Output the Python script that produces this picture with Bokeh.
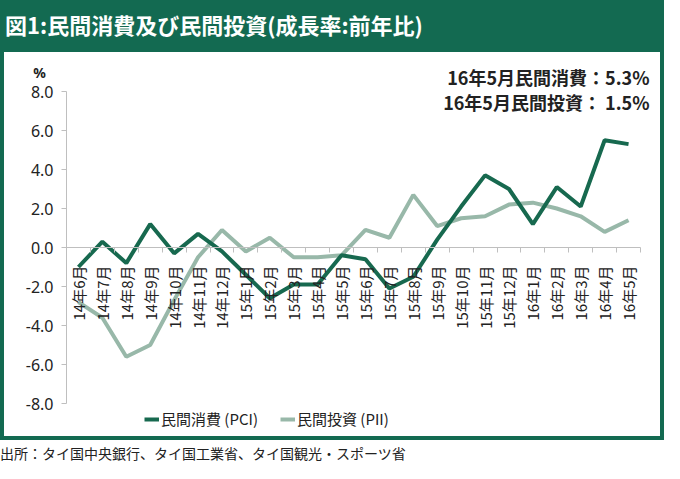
import math
from bokeh.plotting import figure
from bokeh.models import (Range1d, FixedTicker, NumeralTickFormatter, Legend,
                          LegendItem, Label, Div, ColumnDataSource)
from bokeh.layouts import column, row
from bokeh.embed import file_html
from bokeh.resources import INLINE

# ---------------- data ----------------
months = ["14年6月", "14年7月", "14年8月", "14年9月", "14年10月", "14年11月",
          "14年12月", "15年1月", "15年2月", "15年3月", "15年4月", "15年5月",
          "15年6月", "15年7月", "15年8月", "15年9月", "15年10月", "15年11月",
          "15年12月", "16年1月", "16年2月", "16年3月", "16年4月", "16年5月"]
pci = [-1.0, 0.3, -0.8, 1.2, -0.3, 0.7, -0.2, -1.4, -2.6, -1.9, -1.9, -0.4,
       -0.6, -2.1, -1.5, 0.4, 2.1, 3.7, 3.0, 1.2, 3.1, 2.1, 5.5, 5.3]
pii = [-2.8, -3.6, -5.6, -5.0, -2.7, -0.5, 0.9, -0.2, 0.5, -0.5, -0.5, -0.4,
       0.9, 0.5, 2.7, 1.1, 1.5, 1.6, 2.2, 2.3, 2.0, 1.6, 0.8, 1.4]
y_ticks = [-8, -6, -4, -2, 0, 2, 4, 6, 8]
y_min, y_max = -8, 8

title_text = "図1:民間消費及び民間投資(成長率:前年比)"
note_lines = ["16年5月民間消費：5.3%", "16年5月民間投資： 1.5%"]
series_names = ["民間消費 (PCI)", "民間投資 (PII)"]
source_text = "出所：タイ国中央銀行、タイ国工業省、タイ国観光・スポーツ省"

# ---------------- styles / layout ----------------
GREEN = "#136a51"
DARK = "#17694f"
LIGHT = "#98b8a9"
AXIS = "#bfbfbf"
TXT = "#222222"
JP = "Noto Sans CJK JP"

W, H = 656, 384                    # figure size (inside green frame)
PL, PR, PT, PB = 62, 20, 39, 33    # plot area insets in pixels

n = len(months)
xs = list(range(n))
x_lo, x_hi = -0.5, n - 0.5
ux = (x_hi - x_lo) / (W - PL - PR)
uy = (y_max - y_min) / (H - PT - PB)

src = ColumnDataSource(dict(x=xs, pci=pci, pii=pii))

p = figure(width=W, height=H, output_backend="svg", toolbar_location=None,
           x_range=Range1d(x_lo - PL * ux, x_hi + PR * ux),
           y_range=Range1d(y_min - PB * uy, y_max + PT * uy),
           min_border_left=0, min_border_right=0, min_border_top=0,
           min_border_bottom=0)
p.title.visible = False
p.outline_line_color = None
p.grid.visible = False
p.background_fill_color = "white"
p.border_fill_color = "white"

r_pii = p.line("x", "pii", source=src, line_color=LIGHT, line_width=4)
r_pci = p.line("x", "pci", source=src, line_color=DARK, line_width=4)

# x axis at zero
xa = p.xaxis[0]
xa.fixed_location = 0
xa.bounds = (x_lo, x_hi)
xa.ticker = FixedTicker(ticks=xs, minor_ticks=[i - 0.5 for i in range(n + 1)])
xa.major_label_overrides = {i: m for i, m in enumerate(months)}
xa.major_label_orientation = math.pi / 2
xa.major_tick_line_color = None
xa.major_tick_in = 0
xa.major_tick_out = 0
xa.minor_tick_line_color = AXIS
xa.minor_tick_in = 0
xa.minor_tick_out = 5
xa.axis_line_color = AXIS
xa.major_label_standoff = 13
xa.major_label_text_font = JP
xa.major_label_text_font_size = "15px"
xa.major_label_text_color = TXT

ya = p.yaxis[0]
ya.fixed_location = x_lo
ya.bounds = (y_min, y_max)
ya.ticker = FixedTicker(ticks=y_ticks)
ya.formatter = NumeralTickFormatter(format="0.0")
ya.axis_line_color = AXIS
ya.major_tick_line_color = AXIS
ya.major_tick_in = 0
ya.major_tick_out = 5
ya.minor_tick_line_color = None
ya.major_label_standoff = 8
ya.major_label_text_font = "Noto Sans"
ya.major_label_text_font_size = "16px"
ya.major_label_text_color = TXT

# unit label and note (screen units from bottom-left of the plot)
p.add_layout(Label(x=35, y=H - 20, x_units="screen", y_units="screen", text="%",
                   text_align="center", text_baseline="middle",
                   text_font="Noto Sans", text_font_style="bold",
                   text_font_size="14px", text_color=TXT))
for i, t in enumerate(note_lines):
    p.add_layout(Label(x=W - 11, y=H - 24 - 25 * i, x_units="screen", y_units="screen",
                       text=t, text_align="right", text_baseline="middle",
                       text_font=JP, text_font_style="bold",
                       text_font_size="18px", text_color=TXT))

legend = Legend(items=[LegendItem(label=series_names[0], renderers=[r_pci]),
                       LegendItem(label=series_names[1], renderers=[r_pii])],
                location=(140, 7), orientation="horizontal",
                glyph_width=15, glyph_height=20, label_height=20,
                label_standoff=2, spacing=22, padding=0, margin=0,
                border_line_color=None, background_fill_alpha=0,
                label_text_font=JP, label_text_font_size="15px",
                label_text_color=TXT)
p.add_layout(legend, "center")

# ---------------- frame / title / footer ----------------
title_div = Div(text=f'<div style="color:white;font-family:\'{JP}\';font-size:22px;'
                     f'font-weight:bold;line-height:22px;padding:13px 0 0 5px;'
                     f'white-space:nowrap;">{title_text}</div>',
                width=664, height=52, margin=0,
                styles={"background-color": GREEN})
left_bar = Div(text="", width=4, height=H, margin=0, styles={"background-color": GREEN})
right_bar = Div(text="", width=4, height=H, margin=0, styles={"background-color": GREEN})
bottom_bar = Div(text="", width=664, height=4, margin=0, styles={"background-color": GREEN})
footer_div = Div(text=f'<div style="color:{TXT};font-family:\'{JP}\';font-size:14px;'
                      f'line-height:16px;padding:5px 0 0 0;white-space:nowrap;">{source_text}</div>',
                 width=664, height=23, margin=0)

layout = column(title_div, row(left_bar, p, right_bar), bottom_bar, footer_div)

with open("out.html", "w", encoding="utf-8") as f:
    f.write(file_html(layout, INLINE))
